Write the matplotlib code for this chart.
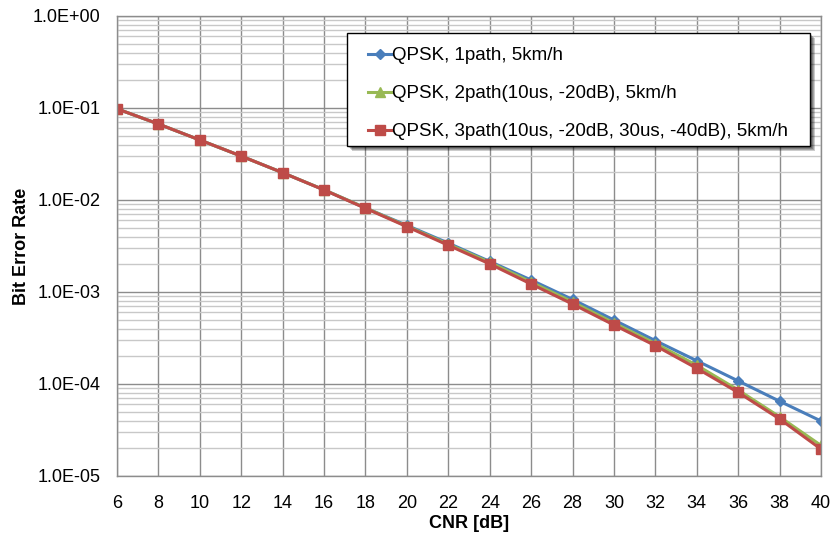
import numpy as np
import matplotlib
matplotlib.use("Agg")
import matplotlib.pyplot as plt
from matplotlib.patches import Rectangle
from matplotlib.ticker import FuncFormatter, LogLocator, FixedLocator

plt.rcParams['font.family'] = ['Liberation Sans', 'DejaVu Sans']

# データ
cnr = [6, 8, 10, 12, 14, 16, 18, 20, 22, 24, 26, 28, 30, 32, 34, 36, 38, 40]
ber_1path = [0.098, 0.067, 0.0449, 0.0300, 0.0198, 0.0129, 0.0082, 0.0053, 0.0034,
             0.00215, 0.00135, 0.00083, 0.000496, 0.000296, 0.000179, 0.000108,
             0.000065, 0.0000396]
ber_2path = [0.098, 0.067, 0.0449, 0.0300, 0.0198, 0.0129, 0.0082, 0.0052, 0.0033,
             0.0021, 0.00128, 0.00078, 0.00046, 0.000275, 0.000160, 0.000086,
             0.000044, 0.0000215]
ber_3path = [0.098, 0.067, 0.0449, 0.0300, 0.0198, 0.01285, 0.00812, 0.00513, 0.00322,
             0.00202, 0.00122, 0.00074, 0.000438, 0.000261, 0.000148, 0.000081,
             0.0000417, 0.0000196]
labels = ["QPSK, 1path, 5km/h",
          "QPSK, 2path(10us, -20dB), 5km/h",
          "QPSK, 3path(10us, -20dB, 30us, -40dB), 5km/h"]

W, H = 833, 536
fig = plt.figure(figsize=(W / 100, H / 100), dpi=100)
ax = fig.add_axes([117/W, 1 - 476/H, 704/W, 460/H])

ax.plot(cnr, ber_1path, color='#4A7EBB', lw=2.2, marker='D', ms=5.5, label=labels[0])
ax.plot(cnr, ber_2path, color='#98B954', lw=2.2, marker='^', ms=6.5, label=labels[1])
ax.plot(cnr, ber_3path, color='#BE4B48', lw=2.2, marker='s', ms=6.5, label=labels[2])

ax.set_yscale('log')
ax.set_xlim(6, 40)
ax.set_ylim(1e-5, 1)
ax.xaxis.set_major_locator(FixedLocator(cnr))
ax.yaxis.set_major_locator(LogLocator(base=10, numticks=10))
ax.yaxis.set_minor_locator(LogLocator(base=10, subs=np.arange(2, 10), numticks=10))
ax.yaxis.set_major_formatter(FuncFormatter(lambda v, p: f"{v:.1E}"))
ax.yaxis.set_minor_formatter(FuncFormatter(lambda v, p: ""))

ax.grid(True, which='major', axis='both', color='#8c8c8c', lw=1.0)
ax.grid(True, which='minor', axis='y', color='#c8c8c8', lw=1.0)
ax.set_axisbelow(True)
for s in ax.spines.values():
    s.set_color('#8c8c8c')
    s.set_linewidth(1.0)

ax.tick_params(which='both', length=0, labelsize=13)
ax.tick_params(axis='y', pad=12)
ax.tick_params(axis='x', pad=13.5)
ax.set_xlabel("CNR [dB]", fontsize=13, fontweight='bold', labelpad=2)
ax.set_ylabel("Bit Error Rate", fontsize=13, fontweight='bold', labelpad=2)

# 凡例の枠（影付き）
bx, by, bw, bh = 347, 33, 463, 113
for k in range(1, 6):
    sh = Rectangle(((bx + k)/W, 1 - (by + bh + k)/H), bw/W, bh/H,
                   transform=fig.transFigure, facecolor='black', edgecolor='none',
                   alpha=0.2, zorder=4.4)
    fig.add_artist(sh)
box = Rectangle((bx/W, 1 - (by + bh)/H), bw/W, bh/H, transform=fig.transFigure,
                facecolor='white', edgecolor='black', lw=1.0, zorder=4.5)
fig.add_artist(box)

leg = ax.legend(loc='upper left', bbox_to_anchor=(368/W, 1 - 47/H),
                bbox_transform=fig.transFigure, fontsize=13.5, frameon=False,
                handlelength=1.3, handletextpad=0.0, labelspacing=1.12,
                borderpad=0.0, borderaxespad=0.0)
leg.remove()
fig.add_artist(leg)
leg.set_zorder(6)

fig.savefig("out.png", dpi=100)
